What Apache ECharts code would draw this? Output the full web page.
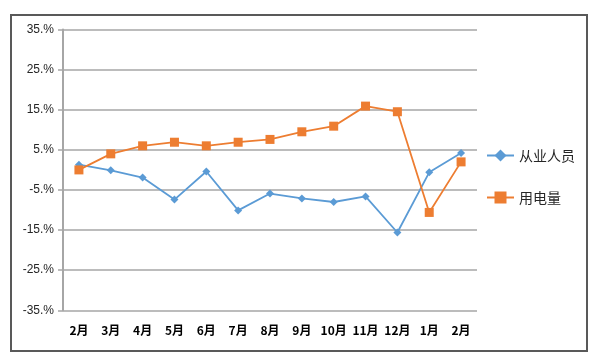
<!DOCTYPE html>
<html><head><meta charset="utf-8">
<script src="https://cdn.jsdelivr.net/npm/echarts@6/dist/echarts.min.js"></script>
<style>html,body{margin:0;padding:0;background:#fff}#c{width:600px;height:360px}</style>
</head><body><div id="c"></div>
<script>
const categories = ['2月','3月','4月','5月','6月','7月','8月','9月','10月','11月','12月','1月','2月'];
const employees = [1.3, -0.1, -1.9, -7.4, -0.4, -10.1, -5.9, -7.1, -8.0, -6.6, -15.6, -0.6, 4.2];
const electricity = [0, 4.0, 6.0, 6.9, 6.0, 6.9, 7.6, 9.5, 10.9, 15.9, 14.5, -10.6, 2.0];
const yTicks = [-35, -25, -15, -5, 5, 15, 25, 35];
const seriesNames = ['从业人员', '用电量'];

const chart = echarts.init(document.getElementById('c'));
chart.setOption({
  animation: false,
  textStyle: {fontFamily: '"Noto Sans CJK SC", "DejaVu Sans", sans-serif'},
  graphic: [{type: 'rect', shape: {x: 11, y: 15, width: 576, height: 336},
    style: {fill: 'none', stroke: '#595959', lineWidth: 2}, silent: true}],
  grid: {left: 63, right: 123, top: 29.5, bottom: 49.7, containLabel: false},
  legend: {
    orient: 'vertical', left: 486, top: 148.5, itemGap: 28, padding: 0,
    itemWidth: 27, itemHeight: 15,
    textStyle: {fontSize: 14, color: '#262626', fontFamily: '"Noto Sans CJK SC", sans-serif'},
    data: seriesNames
  },
  xAxis: {
    type: 'category', data: categories, boundaryGap: true,
    axisLine: {show: false}, axisTick: {show: false},
    axisLabel: {interval: 0, fontWeight: 'bold', fontSize: 12, color: '#000', margin: 14}
  },
  yAxis: {
    type: 'value', min: -35, max: 35,
    axisLabel: {customValues: yTicks, formatter: v => v + '.%', fontSize: 12, color: '#262626', margin: 9,
      fontFamily: '"Liberation Sans", Arial, sans-serif'},
    axisTick: {show: true, customValues: yTicks, length: 5, lineStyle: {color: '#a6a6a6', width: 1.5}},
    axisLine: {show: true, lineStyle: {color: '#a6a6a6', width: 2}},
    splitLine: {show: true, lineStyle: {color: '#a6a6a6', width: 1.5}}
  },
  series: [
    {name: seriesNames[0], type: 'line', data: employees, symbol: 'diamond', symbolSize: 8,
     itemStyle: {color: '#5b9bd5'}, lineStyle: {color: '#5b9bd5', width: 1.8}},
    {name: seriesNames[1], type: 'line', data: electricity, symbol: 'rect', symbolSize: 9,
     itemStyle: {color: '#ed7d31'}, lineStyle: {color: '#ed7d31', width: 1.8}}
  ]
});
</script></body></html>
